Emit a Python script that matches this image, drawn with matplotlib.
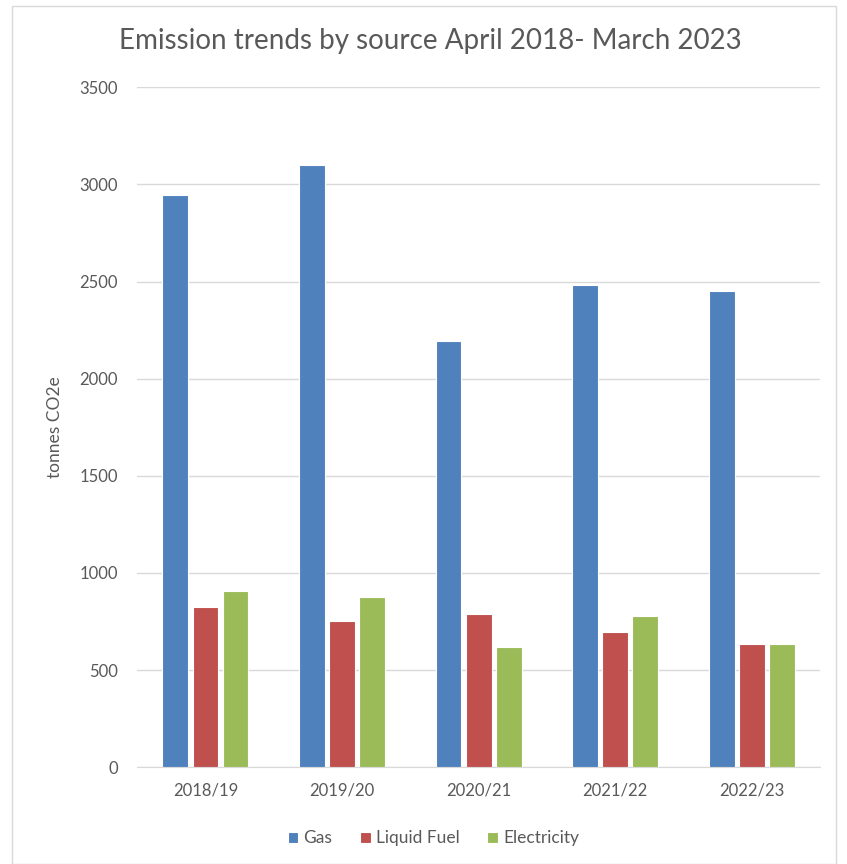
import matplotlib.pyplot as plt
import numpy as np
from matplotlib.patches import Rectangle

years = ['2018/19', '2019/20', '2020/21', '2021/22', '2022/23']
gas = [2944, 3098, 2193, 2481, 2450]
liquid_fuel = [823, 751, 787, 695, 633]
electricity = [906, 875, 618, 777, 633]

series = [('Gas', gas, '#4f81bd'),
          ('Liquid Fuel', liquid_fuel, '#c0504d'),
          ('Electricity', electricity, '#9bbb59')]

plt.rcParams['font.family'] = ['Lato', 'DejaVu Sans']
txt = '#595959'

fig = plt.figure(figsize=(8.47, 8.64), dpi=100)
ax = fig.add_axes([0.162, 0.112, 0.806, 0.787])

# chart border
fig.patches.append(Rectangle((0.014, 0.0), 0.973, 0.993, transform=fig.transFigure,
                             fill=False, edgecolor='#d9d9d9', linewidth=1))

x = np.arange(len(years))
w = 0.19
offsets = [-0.22, 0.0, 0.22]
for (name, vals, col), off in zip(series, offsets):
    ax.bar(x + off, vals, width=w, color=col, edgecolor='white', linewidth=0.8,
           label=name, zorder=3)

ax.set_xlim(-0.5, len(years) - 0.5)
ax.set_ylim(0, 3500)
ax.set_yticks(np.arange(0, 3501, 500))
ax.set_xticks(x)
ax.set_xticklabels(years)
ax.grid(axis='y', color='#d9d9d9', linewidth=1, zorder=0)
ax.set_axisbelow(True)
for s in ['top', 'right', 'left']:
    ax.spines[s].set_visible(False)
ax.spines['bottom'].set_color('#d9d9d9')
ax.tick_params(axis='both', length=0, labelsize=12, colors=txt, pad=14)
ax.tick_params(axis='x', pad=11)
ax.set_ylabel('tonnes CO2e', fontsize=12.5, color=txt, labelpad=12)

fig.suptitle('Emission trends by source April 2018- March 2023', fontsize=20,
             color=txt, x=0.508, y=0.968)

ax.legend(loc='upper center', bbox_to_anchor=(0.434, -0.07), ncol=3, frameon=False,
          fontsize=12.5, labelcolor=txt, handlelength=0.6, handleheight=0.6,
          handletextpad=0.3, columnspacing=1.6)

fig.savefig('out.png', dpi=100)
